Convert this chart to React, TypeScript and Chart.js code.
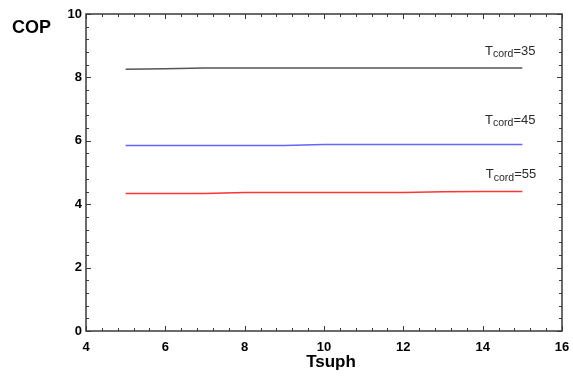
import React, { useEffect, useRef } from "react";
import { Chart, registerables } from "chart.js";

Chart.register(...registerables);

const tsuph = [5, 6, 7, 8, 9, 10, 11, 12, 13, 14, 15];
const cop35 = [8.26, 8.27, 8.3, 8.3, 8.3, 8.3, 8.3, 8.3, 8.3, 8.3, 8.3];
const cop45 = [5.85, 5.85, 5.85, 5.85, 5.85, 5.88, 5.88, 5.88, 5.88, 5.88, 5.88];
const cop55 = [4.34, 4.34, 4.34, 4.37, 4.37, 4.37, 4.37, 4.37, 4.39, 4.4, 4.4];
const seriesLabels = ["35", "45", "55"];
const seriesColors = ["#555555", "#6464ff", "#ff3434"];
const labelX = [14.06, 14.06, 14.08];
const labelY = [8.71, 6.53, 4.82];
const xTicks = [4, 6, 8, 10, 12, 14, 16];
const yTicks = [0, 2, 4, 6, 8, 10];
const minorStep = 0.4;

const FONT = "'Liberation Sans', Arial, sans-serif";

const decorPlugin = {
  id: "decor",
  afterDraw(chart: any) {
    const ctx = chart.ctx;
    const xs = chart.scales.x;
    const ys = chart.scales.y;
    const { left, right, top, bottom } = chart.chartArea;
    ctx.save();
    // frame
    ctx.strokeStyle = "#3a3a3a";
    ctx.lineWidth = 1.5;
    ctx.strokeRect(left, top, right - left, bottom - top);
    // ticks
    ctx.lineWidth = 1;
    ctx.beginPath();
    const nx = Math.round((xs.max - xs.min) / minorStep);
    for (let i = 0; i <= nx; i++) {
      const v = xs.min + i * minorStep;
      const major = xTicks.some((t) => Math.abs(t - v) < 1e-6);
      const len = major ? 5 : 3;
      const px = Math.round(xs.getPixelForValue(v)) + 0.5;
      ctx.moveTo(px, bottom);
      ctx.lineTo(px, bottom - len);
      ctx.moveTo(px, top);
      ctx.lineTo(px, top + len);
    }
    const ny = Math.round((ys.max - ys.min) / minorStep);
    for (let i = 0; i <= ny; i++) {
      const v = ys.min + i * minorStep;
      const major = yTicks.some((t) => Math.abs(t - v) < 1e-6);
      const len = major ? 5 : 3;
      const py = Math.round(ys.getPixelForValue(v)) + 0.5;
      ctx.moveTo(left, py);
      ctx.lineTo(left + len, py);
      ctx.moveTo(right, py);
      ctx.lineTo(right - len, py);
    }
    ctx.stroke();

    // tick labels
    ctx.fillStyle = "#000";
    ctx.font = "bold 13px " + FONT;
    ctx.textAlign = "center";
    ctx.textBaseline = "alphabetic";
    xTicks.forEach((t) => {
      ctx.fillText(String(t), xs.getPixelForValue(t), bottom + 20);
    });
    ctx.textAlign = "right";
    ctx.textBaseline = "middle";
    yTicks.forEach((t) => {
      ctx.fillText(String(t), left - 4, ys.getPixelForValue(t));
    });

    // axis titles
    ctx.font = "bold 18px " + FONT;
    ctx.textAlign = "left";
    ctx.textBaseline = "alphabetic";
    ctx.fillText("COP", 12, 33);
    ctx.font = "bold 17px " + FONT;
    ctx.textAlign = "center";
    ctx.fillText("Tsuph", 331, 367);

    // series annotations
    ctx.fillStyle = "#2a2a2a";
    ctx.textAlign = "left";
    seriesLabels.forEach((lab, i) => {
      let x = xs.getPixelForValue(labelX[i]);
      const y = ys.getPixelForValue(labelY[i]);
      ctx.font = "13px " + FONT;
      ctx.fillText("T", x, y);
      x += ctx.measureText("T").width;
      ctx.font = "10.5px " + FONT;
      ctx.fillText("cord", x, y + 2.5);
      x += ctx.measureText("cord").width;
      ctx.font = "13px " + FONT;
      ctx.fillText("=" + lab, x, y);
    });
    ctx.restore();
  },
};

export default function App() {
  const ref = useRef<HTMLCanvasElement | null>(null);
  useEffect(() => {
    document.body.style.margin = "0";
    const mk = (vals: number[]) => tsuph.map((x, i) => ({ x, y: vals[i] }));
    const chart = new Chart(ref.current as HTMLCanvasElement, {
      type: "line",
      data: {
        datasets: [cop35, cop45, cop55].map((vals, i) => ({
          label: "Tcord=" + seriesLabels[i],
          data: mk(vals),
          borderColor: seriesColors[i],
          backgroundColor: seriesColors[i],
          borderWidth: 1.5,
          pointRadius: 0,
          tension: 0,
          fill: false,
        })),
      },
      options: {
        animation: false,
        responsive: false,
        devicePixelRatio: 1,
        layout: { padding: { left: 86, right: 11, top: 14, bottom: 48 } },
        plugins: { legend: { display: false }, tooltip: { enabled: false }, title: { display: false } },
        scales: {
          x: { type: "linear", min: 4, max: 16, display: false },
          y: { type: "linear", min: 0, max: 10, display: false },
        },
      },
      plugins: [decorPlugin],
    } as any);
    return () => chart.destroy();
  }, []);
  return (
    <div style={{ position: "absolute", left: 0, top: 0, width: 573, height: 379, background: "#fff" }}>
      <canvas ref={ref} width={573} height={379} style={{ width: 573, height: 379, display: "block" }} />
    </div>
  );
}
